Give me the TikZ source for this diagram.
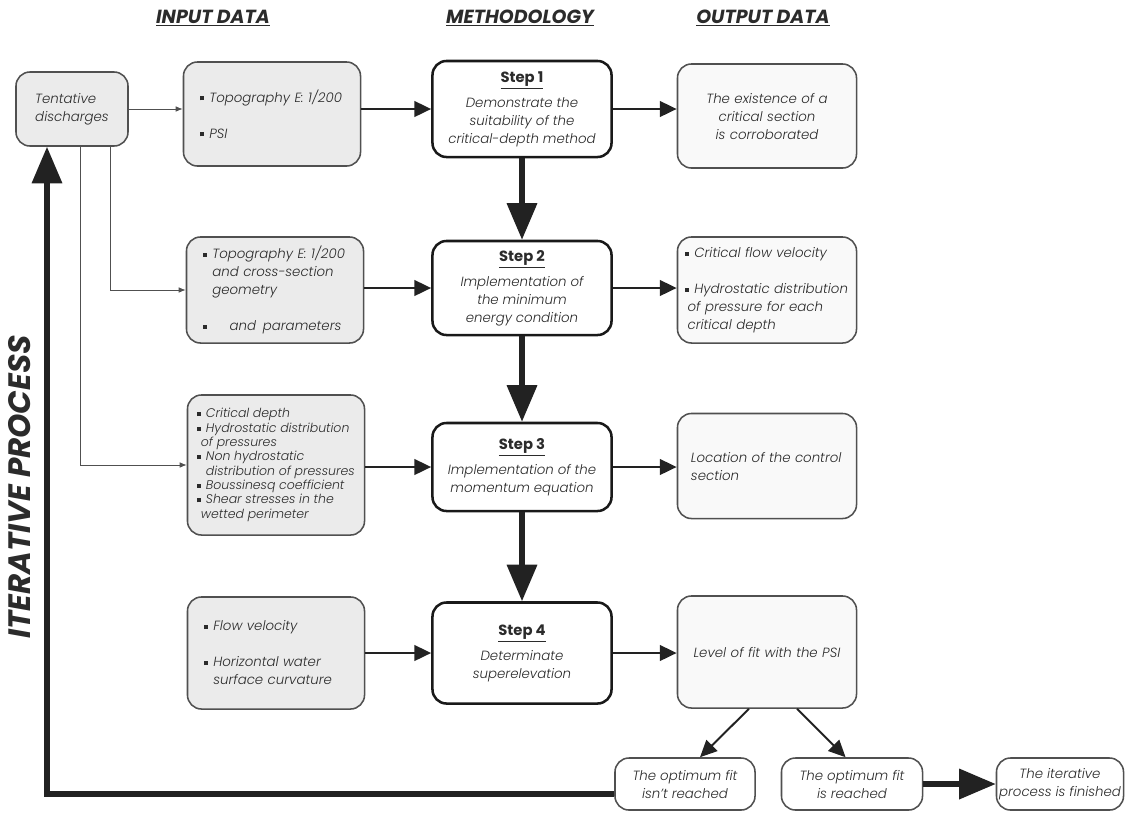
\documentclass[tikz,border=0pt]{standalone}
\usepackage{fontspec}
\setmainfont{Poppins}[UprightFont=* Light, ItalicFont=* Light Italic, BoldFont=* Bold, BoldItalicFont=* Bold Italic]
\usepackage{xcolor}
\usetikzlibrary{arrows.meta,positioning}

\definecolor{ingray}{HTML}{EBEBEB}
\definecolor{outgray}{HTML}{F9F9F9}
\definecolor{edgegray}{HTML}{505050}
\definecolor{txtgray}{HTML}{2B2B2B}
\definecolor{arrgray}{HTML}{222222}

\hyphenpenalty=10000
\exhyphenpenalty=10000

\newcommand{\bul}{\rule[0.25ex]{0.3em}{0.3em}\hspace{0.4em}}
\newcommand{\ind}{\hspace*{0.7em}}
\newcommand{\steptitle}[1]{{\upshape\bfseries\fontsize{10.5}{12.8}\selectfont\underline{#1}}\\[5pt]}

\tikzset{
  boxbase/.style={rounded corners=0.35cm, font=\fontsize{9.5}{12.8}\selectfont\itshape, text=txtgray, inner sep=0pt},
  inbox/.style={boxbase, align=left, draw=edgegray, fill=ingray, line width=1.1pt, minimum width=4.425cm},
  stepbox/.style={boxbase, align=center, draw=black!90, fill=white, line width=1.8pt, minimum width=4.475cm},
  outbox/.style={boxbase, align=left, draw=edgegray, fill=outgray, line width=1.1pt, minimum width=4.475cm},
  endbox/.style={boxbase, align=center, draw=edgegray, fill=white, line width=1.1pt, minimum height=1.3cm},
  feedline/.style={-{Latex[length=5pt,width=4pt]}, draw=edgegray, line width=0.6pt},
  flow/.style={-{Triangle[length=12pt,width=11pt]}, line width=2pt, draw=arrgray},
  bigflow/.style={-{Triangle[length=26pt,width=21pt]}, line width=3.6pt, draw=arrgray},
  colhead/.style={font=\fontsize{13.5}{16}\selectfont\bfseries\itshape, text=txtgray}
}

\begin{document}
\begin{tikzpicture}[x=0.025cm, y=-0.025cm]
    \useasboundingbox (0,0) rectangle (1125,812);

    % Column titles
    \node[colhead] (hin) at (213,18) {\underline{INPUT DATA}};
    \node[colhead] (hmeth) at (520,18) {\underline{METHODOLOGY}};
    \node[colhead] (hout) at (763,18) {\underline{OUTPUT DATA}};
    \node[font=\fontsize{22}{26}\selectfont\bfseries\itshape, text=txtgray, rotate=90] (iter) at (20,487) {ITERATIVE PROCESS};

    % Input data
    \node[inbox, minimum width=2.8cm, minimum height=1.85cm] (tent) at (72,109) {Tentative\\discharges};
    \node[inbox, text width=3.6cm, minimum height=2.6cm] (in1) at (272,114) {\bul Topography E: 1/200\\[12.8pt]\bul PSI\\[12.8pt]};
    \node[inbox, text width=3.6cm, minimum height=2.65cm] (in2) at (275,290) {\bul Topography E: 1/200\\\ind and cross-section\\\ind geometry\\[12.8pt]\bul\hspace{1.3em}and\hspace{0.5em}parameters};
    \node[inbox, minimum height=3.5cm, font=\fontsize{8.9}{10.2}\selectfont\itshape] (in3) at (276,465) {\bul Critical depth\\\bul Hydrostatic distribution\\\hspace*{0.3em}of pressures\\\bul Non hydrostatic\\\ind distribution of pressures\\\bul Boussinesq coefficient\\\bul Shear stresses in the\\\hspace*{0.3em}wetted perimeter};
    \node[inbox, text width=3.6cm, minimum height=2.8cm] (in4) at (276,653) {\bul Flow velocity\\[12.8pt]\bul Horizontal water\\\ind surface curvature};

    % Methodology
    \node[stepbox, minimum height=2.4cm] (step1) at (522,109) {\steptitle{Step 1}Demonstrate the\\suitability of the\\critical-depth method};
    \node[stepbox, minimum height=2.35cm] (step2) at (522,288) {\steptitle{Step 2}Implementation of\\the minimum\\energy condition};
    \node[stepbox, minimum height=2.2cm] (step3) at (522,467) {\steptitle{Step 3}Implementation of the\\momentum equation};
    \node[stepbox, minimum height=2.525cm] (step4) at (522,653) {\steptitle{Step 4}Determinate\\superelevation};

    % Output data
    \node[outbox, align=center, text width=3.9cm, minimum height=2.6cm] (out1) at (767,116) {The existence of a\\critical section\\is corroborated};
    \node[outbox, text width=4.1cm, minimum height=2.65cm] (out2) at (767,290) {\bul Critical flow velocity\\[12.8pt]\bul Hydrostatic distribution\\\hspace*{0.2em}of pressure for each\\\hspace*{0.2em}critical depth};
    \node[outbox, text width=3.8cm, minimum height=2.625cm] (out3) at (767,466) {Location of the control\\section};
    \node[outbox, align=center, text width=3.9cm, minimum height=2.8cm] (fit) at (767,652) {Level of fit with the PSI\\[12.8pt]};

    % End of the iteration
    \node[endbox, minimum width=3.5cm] (notfit) at (685,784) {The optimum fit\\isn't reached};
    \node[endbox, minimum width=3.525cm] (okfit) at (852,784) {The optimum fit\\is reached};
    \node[endbox, minimum width=3.175cm] (done) at (1060,784) {The iterative\\process is finished};

    % Feeding the input boxes
    \draw[feedline] (tent.east) -- (tent.east -| in1.west);
    \draw[feedline] ([xshift=0.95cm]tent.south) |- (in2.west);
    \draw[feedline] ([xshift=0.2cm]tent.south) |- (in3.west);

    % Input -> step -> output
    \foreach \n in {1,...,4} {
        \draw[flow] (step\n.west -| in\n.east) -- (step\n.west);
    }
    \draw[flow] (step1.east) -- (step1.east -| out1.west);
    \draw[flow] (step2.east) -- (step2.east -| out2.west);
    \draw[flow] (step3.east) -- (step3.east -| out3.west);
    \draw[flow] (step4.east) -- (step4.east -| fit.west);

    % Step sequence
    \draw[bigflow] (step1) -- (step2);
    \draw[bigflow] (step2) -- (step3);
    \draw[bigflow] (step3) -- (step4);

    % Check of the fit
    \draw[flow, line width=1.4pt] ([xshift=-0.45cm]fit.south) -- ([xshift=0.375cm]notfit.north);
    \draw[flow, line width=1.4pt] ([xshift=0.75cm]fit.south) -- ([xshift=-0.16cm]okfit.north);
    \draw[bigflow] (okfit) -- (done);
    \draw[bigflow] ([yshift=-0.25cm]notfit.west) -| ([xshift=-0.625cm]tent.south);
\end{tikzpicture}
\end{document}
